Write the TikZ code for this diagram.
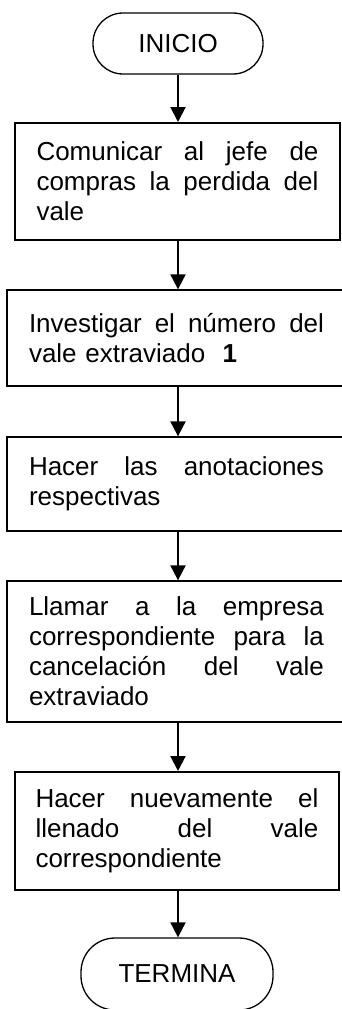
\documentclass[tikz,border=0pt]{standalone}
\usepackage{fontspec}
\setmainfont{Liberation Sans}
\usetikzlibrary{arrows.meta}
\begin{document}
\begin{tikzpicture}[x=1pt,y=-1pt,
  txt/.style={font=\fontsize{26}{30}\selectfont},
  procbox/.style={draw, rectangle, line width=1.3pt, inner sep=0pt, txt, align=left},
  thickbox/.style={procbox, line width=2pt},
  term/.style={draw, rectangle, line width=1.3pt, inner sep=0pt, txt},
  flow/.style={line width=2pt, -{Triangle[width=15pt,length=15pt]}}]
\useasboundingbox (0,0) rectangle (341,1009);

\node[term, rounded corners=30pt, minimum width=170pt, minimum height=61pt] (n0) at (178,43.5) {INICIO};

\node[thickbox, text width=282pt, minimum width=325pt, minimum height=117pt] (n1) at (177.5,181.5)
  {\makebox[282pt][l]{Comunicar\hfill al\hfill jefe\hfill de}\\\makebox[282pt][l]{compras\hfill la\hfill perdida\hfill del}\\vale};

\node[procbox, text width=295pt, minimum width=339pt, minimum height=96pt] (n2) at (176.5,338)
  {\makebox[295pt][l]{Investigar\hfill el\hfill número\hfill del}\\vale extraviado\ \ \textbf{1}};

\node[procbox, text width=295pt, minimum width=339pt, minimum height=94pt] (n3) at (176.5,484)
  {\makebox[295pt][l]{Hacer\hfill las\hfill anotaciones}\\respectivas};

\node[procbox, text width=295pt, minimum width=339pt, minimum height=141pt] (n4) at (176.5,651.5)
  {\makebox[295pt][l]{Llamar\hfill a\hfill la\hfill empresa}\\\makebox[295pt][l]{correspondiente\hfill para\hfill la}\\\makebox[295pt][l]{cancelación\hfill del\hfill vale}\\extraviado};

\node[thickbox, text width=283pt, minimum width=324pt, minimum height=118pt] (n5) at (177,831)
  {\makebox[283pt][l]{Hacer\hfill nuevamente\hfill el}\\\makebox[283pt][l]{llenado\hfill del\hfill vale}\\correspondiente};

\node[term, rounded corners=34pt, minimum width=192pt, minimum height=72pt] (n6) at (177,974) {TERMINA};

\coordinate (c1) at (178,0);
\draw[flow] (n0.south) -- (n0.south |- n1.north);
\draw[flow] (c1 |- n1.south) -- (c1 |- n2.north);
\draw[flow] (c1 |- n2.south) -- (c1 |- n3.north);
\draw[flow] (c1 |- n3.south) -- (c1 |- n4.north);
\draw[flow] (c1 |- n4.south) -- (c1 |- n5.north);
\draw[flow] (c1 |- n5.south) -- (c1 |- n6.north);
\end{tikzpicture}
\end{document}
